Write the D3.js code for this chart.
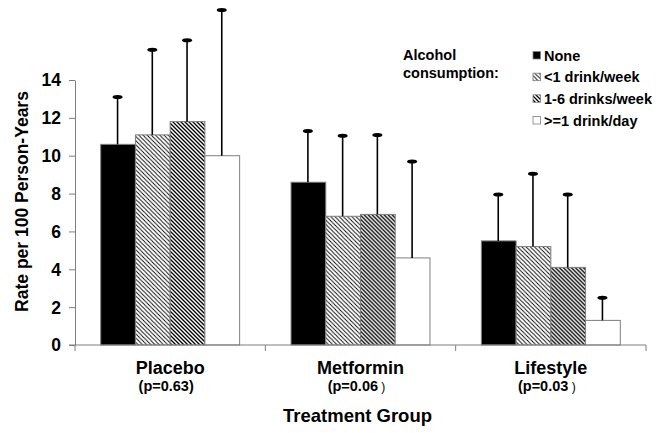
<!DOCTYPE html>
<html>
<head>
<meta charset="utf-8">
<script src="https://cdn.jsdelivr.net/npm/d3@7"></script>
<style>
  html, body { margin: 0; padding: 0; background: #fff; }
  svg text { font-family: Arial, "Liberation Sans", sans-serif; font-weight: bold; fill: #000; }
</style>
</head>
<body>
<svg id="chart" width="666" height="433"></svg>
<script>
// ---- data ----
const groups = ["Placebo", "Metformin", "Lifestyle"];
const pValues = ["(p=0.63)", "(p=0.06", "(p=0.03"];
const pSuffix = ["", " )", " )"];
const series = ["None", "<1 drink/week", "1-6 drinks/week", ">=1 drink/day"];
const rates = [
  [10.6, 11.1, 11.8, 10.0],   // Placebo
  [8.6, 6.8, 6.9, 4.6],       // Metformin
  [5.5, 5.2, 4.1, 1.3]        // Lifestyle
];
const upper = [
  [13.1, 15.6, 16.1, 17.7],
  [11.3, 11.05, 11.1, 9.7],
  [7.95, 9.05, 7.95, 2.5]
];
const yTicks = [0, 2, 4, 6, 8, 10, 12, 14];
const yTitle = "Rate per 100 Person-Years";
const xTitle = "Treatment Group";
const legendTitle = ["Alcohol", "consumption:"];

// ---- layout ----
const W = 666, H = 433;
const margin = { top: 80, right: 20, bottom: 88, left: 75 };
const svg = d3.select("#chart");
const defs = svg.append("defs");

function hatch(id, size, sw) {
  const p = defs.append("pattern").attr("id", id)
    .attr("patternUnits", "userSpaceOnUse").attr("width", size).attr("height", size);
  p.append("rect").attr("width", size).attr("height", size).attr("fill", "#fff");
  p.append("path")
    .attr("d", `M${-size},0 L${size},${2*size} M0,0 L${size},${size} M0,${-size} L${2*size},${size}`)
    .attr("stroke", "#000").attr("stroke-width", sw).attr("fill", "none");
}
hatch("hLight", 4.2, 0.9);
hatch("hDark", 4, 1.35);
const fills = ["#000", "url(#hLight)", "url(#hDark)", "#fff"];
const axisGray = "#7f7f7f";

const x = d3.scaleBand().domain(groups).range([margin.left, W - margin.right]).paddingInner(0).paddingOuter(0);
const xs = d3.scaleBand().domain(series).range([0, x.bandwidth()]).paddingInner(0).paddingOuter(0.74);
const y = d3.scaleLinear().domain([0, 14]).range([H - margin.bottom, margin.top]);

// bars
const g = svg.append("g");
groups.forEach((grp, gi) => {
  const gg = g.append("g").attr("transform", `translate(${x(grp)},0)`);
  gg.selectAll("rect").data(series).join("rect")
    .attr("x", s => xs(s))
    .attr("width", xs.bandwidth())
    .attr("y", (s, i) => y(rates[gi][i]))
    .attr("height", (s, i) => y(0) - y(rates[gi][i]))
    .attr("fill", (s, i) => fills[i])
    .attr("stroke", axisGray).attr("stroke-width", 1);
  // error bars
  gg.selectAll("line.err").data(series).join("line").attr("class", "err")
    .attr("x1", s => xs(s) + xs.bandwidth() / 2 - 0.5)
    .attr("x2", s => xs(s) + xs.bandwidth() / 2 - 0.5)
    .attr("y1", (s, i) => y(rates[gi][i]))
    .attr("y2", (s, i) => y(upper[gi][i]))
    .attr("stroke", "#000").attr("stroke-width", 1.6);
  gg.selectAll("ellipse").data(series).join("ellipse")
    .attr("cx", s => xs(s) + xs.bandwidth() / 2 - 0.5)
    .attr("cy", (s, i) => y(upper[gi][i]))
    .attr("rx", 5).attr("ry", 2).attr("fill", "#000");
});

// y axis
const yAxis = svg.append("g").attr("transform", `translate(${margin.left},0)`)
  .call(d3.axisLeft(y).tickValues(yTicks).tickSize(6).tickSizeOuter(0).tickPadding(8));
yAxis.select(".domain").attr("stroke", axisGray);
yAxis.selectAll(".tick line").attr("stroke", axisGray);
yAxis.selectAll(".tick text").style("font-size", "17.5px").style("font-family", "Arial, 'Liberation Sans', sans-serif").style("font-weight", "bold").attr("fill", "#000").attr("dy", "0.34em");

// x axis (ticks at band boundaries)
const xAxisG = svg.append("g");
xAxisG.append("line").attr("x1", margin.left - 6).attr("x2", W - margin.right)
  .attr("y1", y(0)).attr("y2", y(0)).attr("stroke", axisGray);
const bounds = groups.map(gname => x(gname)).concat([x(groups[groups.length - 1]) + x.bandwidth()]);
xAxisG.selectAll("line.t").data(bounds).join("line").attr("class", "t")
  .attr("x1", d => d).attr("x2", d => d).attr("y1", y(0)).attr("y2", y(0) + 6).attr("stroke", axisGray);

// category labels
svg.selectAll("text.cat").data(groups).join("text").attr("class", "cat")
  .attr("x", d => x(d) + x.bandwidth() / 2).attr("y", 373.5)
  .attr("text-anchor", "middle").style("font-size", "18px").text(d => d);
const pt = svg.selectAll("text.pv").data(groups).join("text").attr("class", "pv")
  .attr("x", d => x(d) + x.bandwidth() / 2 - 4).attr("y", 390.5)
  .attr("text-anchor", "middle").style("font-size", "14.5px");
pt.append("tspan").text((d, i) => pValues[i]);
pt.append("tspan").style("font-weight", "normal").style("font-size", "12px").attr("xml:space", "preserve").text((d, i) => pSuffix[i]);

// axis titles
svg.append("text").attr("x", (margin.left + W - margin.right) / 2 - 3).attr("y", 422)
  .attr("text-anchor", "middle").style("font-size", "18.5px").text(xTitle);
svg.append("text").attr("transform", `translate(28,201.5) rotate(-90)`)
  .attr("text-anchor", "middle").style("font-size", "17.5px").text(yTitle);

// legend
svg.selectAll("text.lt").data(legendTitle).join("text").attr("class", "lt")
  .attr("x", 403).attr("y", (d, i) => 60 + i * 18).style("font-size", "14.5px").text(d => d);
const leg = svg.append("g").attr("transform", "translate(533,0)");
const ly = d3.scalePoint().domain(series).range([55.5, 120.5]);
leg.selectAll("rect").data(series).join("rect")
  .attr("x", 0).attr("y", d => ly(d) - 4).attr("width", 7.5).attr("height", 7.5)
  .attr("fill", (d, i) => fills[i]).attr("stroke", axisGray).attr("stroke-width", 0.8);
leg.selectAll("text").data(series).join("text")
  .attr("x", 11).attr("y", d => ly(d) + 5).style("font-size", "14.5px").text(d => d);
</script>
</body>
</html>
